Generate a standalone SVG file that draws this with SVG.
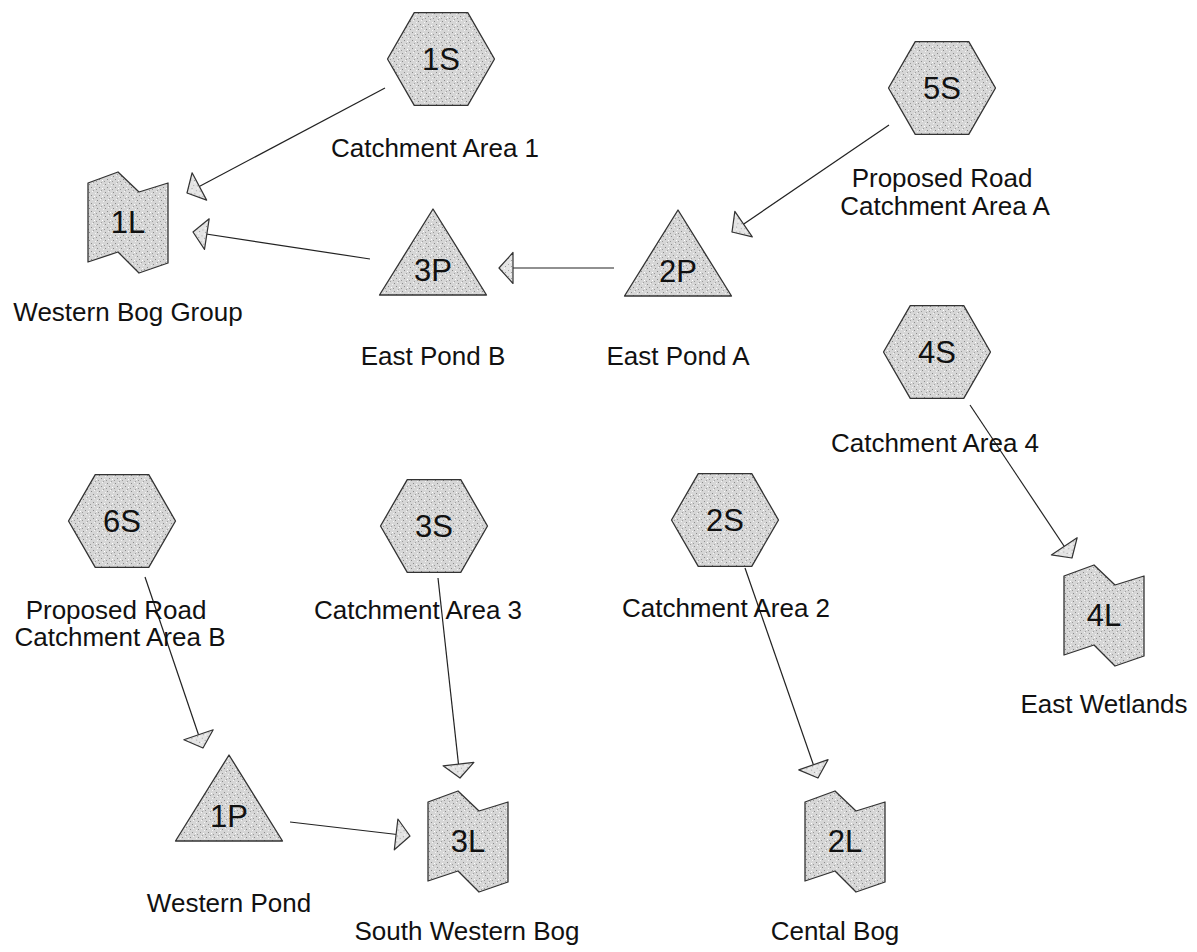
<svg xmlns="http://www.w3.org/2000/svg" width="1197" height="952" viewBox="0 0 1197 952">
<defs>
<pattern id="stip" width="8" height="8" patternUnits="userSpaceOnUse">
<rect width="8" height="8" fill="#d6d6d6"/>
<rect x="1" y="2" width="1" height="1" fill="#8a8a8a"/>
<rect x="5" y="0" width="1" height="1" fill="#a0a0a0"/>
<rect x="3" y="5" width="1" height="1" fill="#8a8a8a"/>
<rect x="6" y="6" width="1" height="1" fill="#ffffff"/>
<rect x="0" y="7" width="1" height="1" fill="#9a9a9a"/>
<rect x="7" y="3" width="1" height="1" fill="#f4f4f4"/>
<rect x="4" y="1" width="1" height="1" fill="#f4f4f4"/>
</pattern>
<pattern id="stip2" width="6" height="6" patternUnits="userSpaceOnUse">
<rect width="6" height="6" fill="#e4e4e4"/>
<rect x="1" y="1" width="1" height="1" fill="#9a9a9a"/>
<rect x="4" y="3" width="1" height="1" fill="#a8a8a8"/>
<rect x="2" y="5" width="1" height="1" fill="#ffffff"/>
</pattern>
<marker id="ah" viewBox="-3 -19 20 38" refX="14" refY="0" markerWidth="20" markerHeight="38" markerUnits="userSpaceOnUse" orient="auto">
<path d="M0,-15.5 L14,0 L0,15.5 Z" fill="url(#stip2)" stroke="#333" stroke-width="1.2" stroke-linejoin="round"/>
</marker>
<polygon id="hex" points="-53.5,0 -26.75,-46.3 26.75,-46.3 53.5,0 26.75,46.3 -26.75,46.3"/>
<polygon id="tri" points="0,0 53.5,86 -53.5,86"/>
<polygon id="bog" points="-40,-39 -10,-50 11,-30 40,-39 40,41 11,51 -10,30 -40,40"/>
</defs>
<style>
.shape{fill:url(#stip);stroke:#333;stroke-width:1.3;stroke-linejoin:round}
.id{font-family:"Liberation Sans",Arial,sans-serif;font-size:31px;fill:#111;text-anchor:middle}
.lbl{font-family:"Liberation Sans",Arial,sans-serif;font-size:26px;fill:#111;text-anchor:middle}
.conn line{stroke:#222;stroke-width:1.2;marker-end:url(#ah)}
</style>
<rect width="1197" height="952" fill="#ffffff"/>

<g id="connectors" class="conn">
<line x1="385" y1="88" x2="187" y2="193"/>
<line x1="370" y1="259" x2="193" y2="232"/>
<line x1="614" y1="268" x2="499" y2="268"/>
<line x1="889" y1="125" x2="732" y2="232"/>
<line x1="970" y1="405" x2="1072" y2="558"/>
<line x1="145" y1="577" x2="203" y2="748"/>
<line x1="438" y1="578" x2="460" y2="778"/>
<line x1="290" y1="822" x2="410" y2="836"/>
<line x1="745" y1="568" x2="818" y2="778"/>
</g>

<g id="n1S"><use href="#hex" x="441" y="59" class="shape"/><text class="id" x="441" y="70">1S</text><text class="lbl" x="435" y="157">Catchment Area 1</text></g>
<g id="n5S"><use href="#hex" x="942" y="88" class="shape"/><text class="id" x="942" y="99">5S</text><text class="lbl" x="942" y="187">Proposed Road</text><text class="lbl" x="945" y="215">Catchment Area A</text></g>
<g id="n4S"><use href="#hex" x="937" y="352" class="shape"/><text class="id" x="937" y="363">4S</text><text class="lbl" x="935" y="452">Catchment Area 4</text></g>
<g id="n6S"><use href="#hex" x="122" y="521" class="shape"/><text class="id" x="122" y="532">6S</text><text class="lbl" x="116" y="619">Proposed Road</text><text class="lbl" x="120" y="646">Catchment Area B</text></g>
<g id="n3S"><use href="#hex" x="434" y="526" class="shape"/><text class="id" x="434" y="537">3S</text><text class="lbl" x="418" y="619">Catchment Area 3</text></g>
<g id="n2S"><use href="#hex" x="725" y="520" class="shape"/><text class="id" x="725" y="531">2S</text><text class="lbl" x="726" y="617">Catchment Area 2</text></g>

<g id="n3P"><use href="#tri" x="433" y="209" class="shape"/><text class="id" x="433" y="281">3P</text><text class="lbl" x="433" y="365">East Pond B</text></g>
<g id="n2P"><use href="#tri" x="678" y="210" class="shape"/><text class="id" x="678" y="282">2P</text><text class="lbl" x="678" y="365">East Pond A</text></g>
<g id="n1P"><use href="#tri" x="229" y="755" class="shape"/><text class="id" x="229" y="827">1P</text><text class="lbl" x="229" y="912">Western Pond</text></g>

<g id="n1L"><use href="#bog" x="128" y="222" class="shape"/><text class="id" x="128" y="233">1L</text><text class="lbl" x="128" y="321">Western Bog Group</text></g>
<g id="n4L"><use href="#bog" x="1104" y="615" class="shape"/><text class="id" x="1104" y="626">4L</text><text class="lbl" x="1104" y="713">East Wetlands</text></g>
<g id="n3L"><use href="#bog" x="468" y="841" class="shape"/><text class="id" x="468" y="852">3L</text><text class="lbl" x="467" y="940">South Western Bog</text></g>
<g id="n2L"><use href="#bog" x="845" y="841" class="shape"/><text class="id" x="845" y="852">2L</text><text class="lbl" x="835" y="940">Cental Bog</text></g>
</svg>
